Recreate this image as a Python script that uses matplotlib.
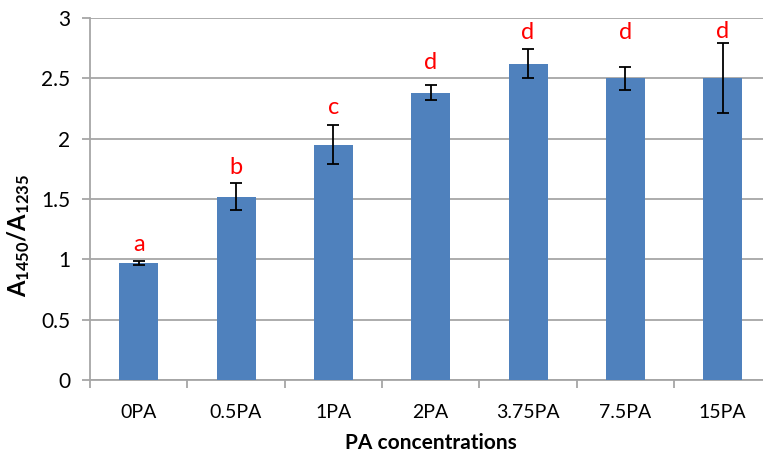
import numpy as np
import matplotlib.pyplot as plt

plt.rcParams['font.family'] = ['Lato', 'DejaVu Sans']
plt.rcParams['mathtext.fontset'] = 'custom'
plt.rcParams['mathtext.rm'] = 'Lato'
plt.rcParams['mathtext.bf'] = 'Lato:bold'

# data
categories = ['0PA', '0.5PA', '1PA', '2PA', '3.75PA', '7.5PA', '15PA']
ratio = [0.97, 1.52, 1.95, 2.38, 2.62, 2.50, 2.50]
ratio_err = [0.02, 0.11, 0.16, 0.06, 0.12, 0.095, 0.29]
letters = ['a', 'b', 'c', 'd', 'd', 'd', 'd']
letter_y = [1.12, 1.76, 2.26, 2.63, 2.88, 2.88, 2.89]

fig = plt.figure(figsize=(7.63, 4.58), dpi=100)
ax = fig.add_axes([0.118, 0.170, 0.893, 0.791])

x = np.arange(len(categories))
ax.bar(x, ratio, width=0.4, color='#4F81BD', zorder=3)
ax.errorbar(x, ratio, yerr=ratio_err, fmt='none', ecolor='black',
            elinewidth=1.3, capsize=4, capthick=1.3, zorder=4)

for xi, lab, ly in zip(x, letters, letter_y):
    ax.text(xi, ly, lab, color='#FF0000', fontsize=17, ha='center', va='center')

ax.set_xlim(-0.5, len(categories) - 0.5)
ax.set_ylim(0, 3)
ax.set_yticks(np.arange(0, 3.01, 0.5))
ax.set_yticklabels(['0', '0.5', '1', '1.5', '2', '2.5', '3'])
ax.yaxis.grid(True, color='#A6A6A6', linewidth=1.3, zorder=0)

ax.set_xticks(x)
ax.set_xticklabels(categories)
ax.set_xticks(np.arange(-0.5, len(categories), 1.0), minor=True)
ax.tick_params(axis='x', which='major', length=0, pad=17, labelsize=14)
ax.tick_params(axis='x', which='minor', length=6, color='#A6A6A6', width=1.3)
ax.tick_params(axis='y', length=6, color='#A6A6A6', width=1.3, labelsize=15, pad=8)

for s in ['top', 'right']:
    ax.spines[s].set_visible(False)
for s in ['left', 'bottom']:
    ax.spines[s].set_color('#A6A6A6')
    ax.spines[s].set_linewidth(1.3)

ax.set_xlabel('PA concentrations', fontsize=15, fontweight='bold', labelpad=9)
ax.set_ylabel(r'$\mathbf{A_{1450}/A_{1235}}$', fontsize=17)
ax.yaxis.set_label_coords(-0.085, 0.40)

fig.savefig('out.png', dpi=100)
